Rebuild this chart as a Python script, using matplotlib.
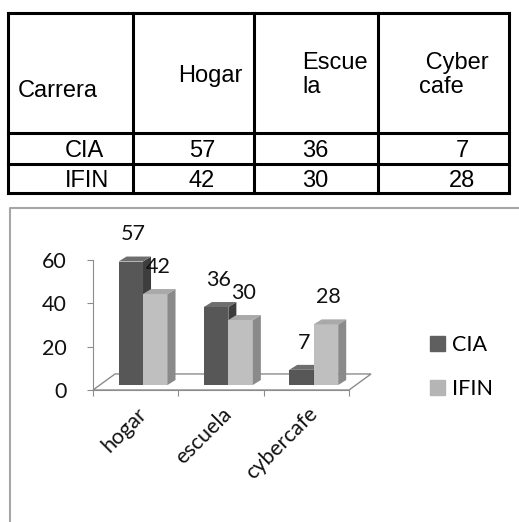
import numpy as np
import matplotlib
matplotlib.use('Agg')
import matplotlib.pyplot as plt
from matplotlib.patches import Polygon, Patch
from matplotlib.transforms import ScaledTranslation

# datos de la tabla y del grafico
carreras = ['CIA', 'IFIN']
encabezados = ['Carrera', 'Hogar', 'Escue\nla', ' Cyber\ncafe']
categorias = ['hogar', 'escuela', 'cybercafe']
cia = [57, 36, 7]
ifin = [42, 30, 28]

W, H = 519, 522
fig = plt.figure(figsize=(W / 100, H / 100), dpi=100)

# capa de fondo en pixeles: tabla + marco del grafico
bg = fig.add_axes([0, 0, 1, 1])
bg.set_xlim(0, W)
bg.set_ylim(H, 0)
bg.axis('off')

col_x = [8, 133, 254, 378, 509]
row_y = [13, 133, 164, 193]
bg.vlines(col_x, row_y[0], row_y[-1], color='black', lw=2.2, capstyle='projecting')
bg.hlines(row_y, col_x[0], col_x[-1], color='black', lw=2.2, capstyle='projecting')

tfont = dict(family='Liberation Sans', fontsize=17, color='black')
bg.text(18, 97, encabezados[0], ha='left', va='baseline', **tfont)
bg.text(243, 82, encabezados[1], ha='right', va='baseline', **tfont)
bg.text(302, 52, encabezados[2], ha='left', va='top', linespacing=1.1, **tfont)
bg.text(419, 52, encabezados[3], ha='left', va='top', linespacing=1.1, **tfont)

centros = [202, 315, 462]
for fila, (nombre, vals) in enumerate(zip(carreras, [cia, ifin])):
    yb = [157, 187][fila]
    bg.text(65, yb, nombre, ha='left', va='baseline', **tfont)
    for cx, v in zip(centros, vals):
        bg.text(cx, yb, str(v), ha='center', va='baseline', **tfont)

# marco gris del grafico
bg.plot([10, 10, W + 5], [H + 5, 208, 208], color='#a6a6a6', lw=1.5)

# grafico de barras con efecto 3D
fs = 15.5
cfont = dict(family='Lato', fontsize=fs, color='#111111')
ax = fig.add_axes([93 / W, (H - 390) / H, 298.7 / W, 162.5 / H])
ax.set_xlim(-0.5, 3.0)
ax.set_ylim(0, 75)
ax.patch.set_alpha(0)

gris = '#8c8c8c'
# piso
fdx, fdy = 0.258, 7.4
piso = Polygon([(-0.5, 0), (2.5, 0), (2.5 + fdx, fdy), (-0.5 + fdx, fdy)],
               closed=True, facecolor='none', edgecolor=gris, lw=1.0, zorder=1, clip_on=False)
ax.add_patch(piso)

bw = 0.287
off = 0.086
base = 2.3
bdx, bdy = 0.094, 2.3
x = np.arange(len(categorias))
series = [
    (cia, x + off - bw / 2, ('#575757', '#3d3d3d', '#6e6e6e'), 3),
    (ifin, x + off + bw / 2, ('#bfbfbf', '#8a8a8a', '#a9a9a9'), 4),
]
for vals, xs, (cf, cs, ct), z in series:
    ax.bar(xs, vals, bw, bottom=base, color=cf, edgecolor='none', zorder=z, clip_on=False)
    for xc, v in zip(xs, vals):
        x0, x1 = xc - bw / 2, xc + bw / 2
        top = v + base
        side = Polygon([(x1, base), (x1 + bdx, base + bdy), (x1 + bdx, top + bdy), (x1, top)],
                       closed=True, facecolor=cs, edgecolor='none', zorder=z, clip_on=False)
        tapa = Polygon([(x0, top), (x1, top), (x1 + bdx, top + bdy), (x0 + bdx, top + bdy)],
                       closed=True, facecolor=ct, edgecolor='none', zorder=z, clip_on=False)
        ax.add_patch(side)
        ax.add_patch(tapa)
        ax.text(xc + 0.03, top + 12.5, str(v), ha='center', va='center', zorder=6, **cfont)

for s in ['top', 'right']:
    ax.spines[s].set_visible(False)
ax.spines['left'].set_color(gris)
ax.spines['left'].set_bounds(0, 60)
ax.spines['bottom'].set_color(gris)
ax.spines['bottom'].set_bounds(-0.5, 2.5)

ax.set_yticks([0, 20, 40, 60])
ax.tick_params(axis='y', length=4, color=gris, pad=15, labelsize=fs)
for t in ax.get_yticklabels():
    t.set_family('Lato')
    t.set_color('#111111')

ax.set_xticks([-0.5, 0.5, 1.5, 2.5])
ax.set_xticklabels([])
ax.tick_params(axis='x', which='major', length=4.5, color=gris)
ax.set_xticks(x, minor=True)
ax.set_xticklabels(categorias, minor=True, rotation=45, ha='right', rotation_mode='anchor',
                   va='center', fontsize=fs, family='Lato', color='#111111')
ax.tick_params(axis='x', which='minor', length=0, pad=15)
desplaza = ScaledTranslation(8 / 100, 0, fig.dpi_scale_trans)
for t in ax.get_xticklabels(minor=True):
    t.set_transform(t.get_transform() + desplaza)

fig.legend(handles=[Patch(color='#5f5f5f', label='CIA'), Patch(color='#b5b5b5', label='IFIN')],
           loc='center left', bbox_to_anchor=(430 / W, 1 - 367 / H), frameon=False,
           borderpad=0, borderaxespad=0, handlelength=0.7, handleheight=0.7,
           handletextpad=0.3, labelspacing=1.15, prop=dict(family='Lato', size=fs))

fig.savefig('out.png', dpi=100)
